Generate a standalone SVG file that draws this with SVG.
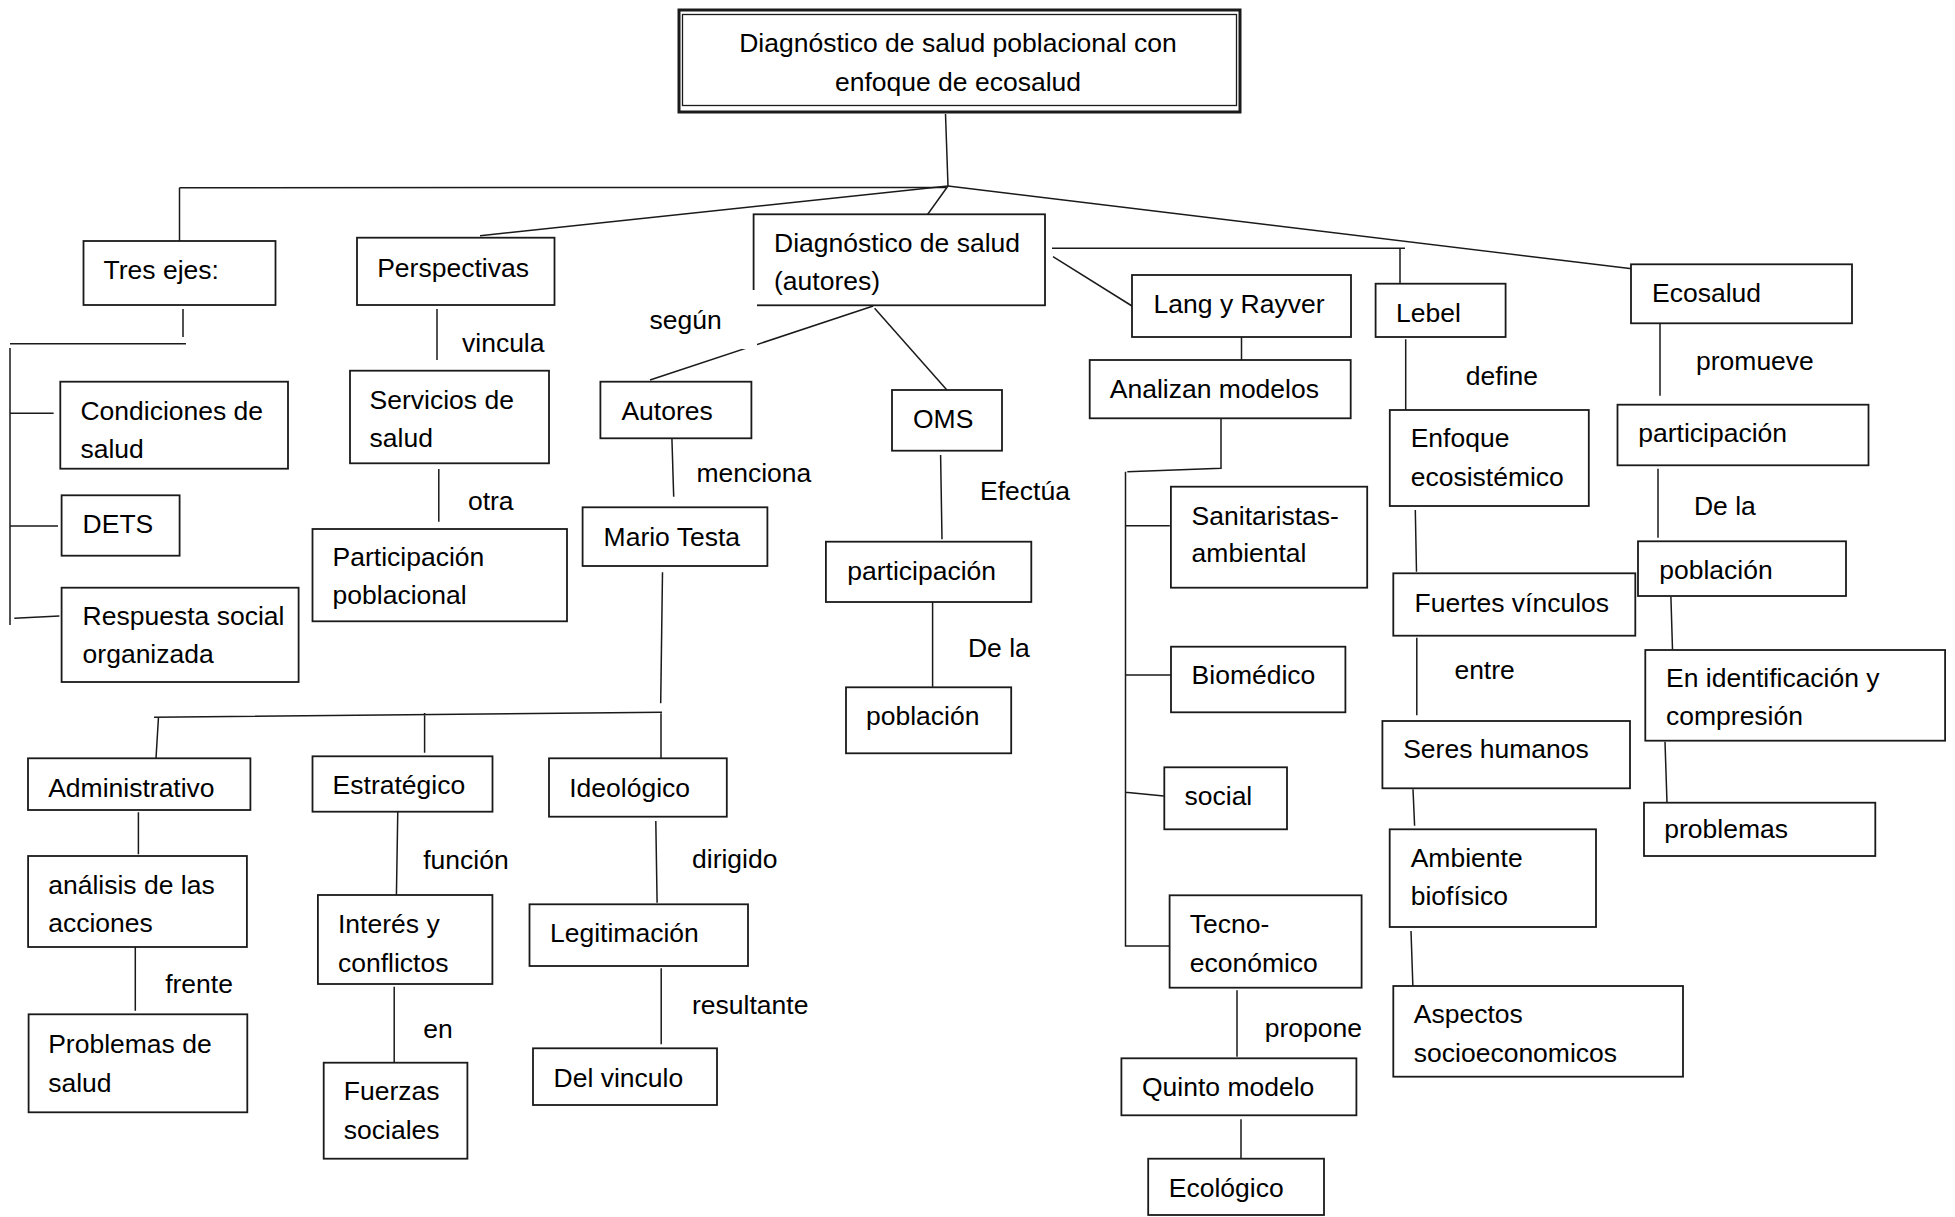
<svg xmlns="http://www.w3.org/2000/svg" width="1955" height="1217" viewBox="0 0 1955 1217">
<style>
.box{fill:#fff;stroke:#1a1a1a;stroke-width:1.8}
.t{font-family:"Liberation Sans",Arial,sans-serif;font-size:26.5px;fill:#000}
.c{fill:none;stroke:#1a1a1a;stroke-width:1.5}
.lbl{font-family:"Liberation Sans",Arial,sans-serif;font-size:26.5px;fill:#000}
</style>
<rect width="1955" height="1217" fill="#fff"/>
<g id="connectors">
<path class="c" d="M945.5,114 L948,186"/>
<path class="c" d="M179.5,187.7 L946,187.5"/>
<path class="c" d="M179.5,187.7 L179.5,241"/>
<path class="c" d="M948,186 L480,235.7"/>
<path class="c" d="M948,186 L927.7,214.3"/>
<path class="c" d="M948,186 L1634,269"/>
<path class="c" d="M1052,248.3 L1405,248.3 M1400,248.3 L1400,285"/>
<path class="c" d="M1053,256.7 L1132,306"/>
<path class="c" d="M873.2,306 L650,380"/>
<path class="c" d="M874.6,308.3 L946.9,390"/>
<path class="c" d="M183,309 L183,337 M10,343.7 L186,343.7 M10,348 L10,625 M10,413.3 L53.6,413.3 M10,526 L58,526 M14.3,618.3 L59.4,616"/>
<path class="c" d="M437,309 L437,360"/>
<path class="c" d="M438.8,469 L438.8,521.7"/>
<path class="c" d="M671.9,438.3 L673.7,496.7"/>
<path class="c" d="M662.5,572.3 L660.7,703.3"/>
<path class="c" d="M154,717.3 L662,712.3 M158.5,717 L156,758.3 M424.6,713 L424.6,752.7 M661,712.3 L661,758.3"/>
<path class="c" d="M138.4,812.3 L138.4,854.3 M135.3,947 L135.3,1010.7"/>
<path class="c" d="M397.8,810 L396.4,896.7 M394.2,986.7 L394.2,1063.3"/>
<path class="c" d="M655.8,821 L657.1,902.7 M661.2,968.3 L661.2,1044.3"/>
<path class="c" d="M940.6,455 L942,539.3 M932.6,602 L932.6,686.7"/>
<path class="c" d="M1241.5,337 L1241.5,360"/>
<path class="c" d="M1221,418.3 L1221,468.3 L1127.3,471.7 M1125.5,471.7 L1125.5,946 L1169.6,946 M1125.5,525.7 L1169.8,525.7 M1125.5,675 L1174.7,675 M1125.5,792.3 L1163.8,796"/>
<path class="c" d="M1237,990.3 L1237,1056.7 M1241,1119.3 L1241,1159.3"/>
<path class="c" d="M1405.7,339.3 L1405.7,411.7 M1415.3,510 L1416.5,571.7 M1416.8,637.7 L1416.8,715.3 M1413,789.3 L1414.6,825.7 M1411,931 L1413,990"/>
<path class="c" d="M1660,324 L1660,395.7 M1658,468.7 L1658,537.7 M1670.9,596.7 L1672.5,649.3 M1665,741.7 L1667,802.7"/>
</g>
<g id="main">
<rect x="679" y="10" width="561" height="102" fill="#fff" stroke="#1a1a1a" stroke-width="3"/>
<rect x="682.5" y="14.5" width="554" height="91" fill="none" stroke="#1a1a1a" stroke-width="1.3"/>
<text class="t" x="958" y="51.7" text-anchor="middle">Diagnóstico de salud poblacional con</text>
<text class="t" x="958" y="90.7" text-anchor="middle">enfoque de ecosalud</text>
</g>
<g id="tres-ejes"><rect class="box" x="83.5" y="241" width="192" height="64"/><text class="t" x="103.6" y="278.7">Tres ejes:</text></g>
<g id="perspectivas"><rect class="box" x="357" y="237.7" width="197.5" height="67.3"/><text class="t" x="377.2" y="276.7">Perspectivas</text></g>
<g id="diagnostico-autores"><rect class="box" x="753.6" y="214.3" width="291.4" height="91"/><text class="t" x="774" y="252">Diagnóstico de salud</text><text class="t" x="774" y="290">(autores)</text></g>
<g id="lang-rayver"><rect class="box" x="1132" y="275" width="219" height="62"/><text class="t" x="1153.6" y="313.3">Lang y Rayver</text></g>
<g id="lebel"><rect class="box" x="1375.6" y="283.7" width="130" height="53.3"/><text class="t" x="1396" y="321.7">Lebel</text></g>
<g id="ecosalud"><rect class="box" x="1631" y="264.3" width="221" height="59"/><text class="t" x="1652" y="301.7">Ecosalud</text></g>
<g id="condiciones"><rect class="box" x="60.3" y="381.7" width="227.7" height="87"/><text class="t" x="80.4" y="420">Condiciones de</text><text class="t" x="80.4" y="458.3">salud</text></g>
<g id="dets"><rect class="box" x="61.6" y="495.3" width="118" height="60.4"/><text class="t" x="82.6" y="533.3">DETS</text></g>
<g id="respuesta"><rect class="box" x="61.6" y="587.7" width="237" height="94.3"/><text class="t" x="82.6" y="625">Respuesta social</text><text class="t" x="82.6" y="663.3">organizada</text></g>
<g id="servicios"><rect class="box" x="350" y="370.7" width="199" height="92.6"/><text class="t" x="369.6" y="408.7">Servicios de</text><text class="t" x="369.6" y="446.7">salud</text></g>
<g id="participacion-poblacional"><rect class="box" x="312.5" y="529" width="254.5" height="92.3"/><text class="t" x="332.6" y="565.7">Participación</text><text class="t" x="332.6" y="604">poblacional</text></g>
<g id="autores"><rect class="box" x="600.4" y="381.7" width="151" height="56.6"/><text class="t" x="621.4" y="420">Autores</text></g>
<g id="oms"><rect class="box" x="892" y="390" width="110" height="60.7"/><text class="t" x="913" y="428">OMS</text></g>
<g id="analizan"><rect class="box" x="1089.7" y="360" width="261" height="58.3"/><text class="t" x="1109.8" y="398">Analizan modelos</text></g>
<g id="enfoque"><rect class="box" x="1389.8" y="410" width="199" height="96"/><text class="t" x="1410.7" y="446.7">Enfoque</text><text class="t" x="1410.7" y="486">ecosistémico</text></g>
<g id="participacion-eco"><rect class="box" x="1617.5" y="404.7" width="251" height="60.6"/><text class="t" x="1638.3" y="441.7">participación</text></g>
<g id="mario-testa"><rect class="box" x="582.6" y="507.3" width="184.8" height="58.7"/><text class="t" x="603.6" y="545.7">Mario Testa</text></g>
<g id="participacion-oms"><rect class="box" x="825.9" y="541.7" width="205.4" height="60.3"/><text class="t" x="847.3" y="580">participación</text></g>
<g id="sanitaristas"><rect class="box" x="1170.9" y="486.7" width="196.3" height="101"/><text class="t" x="1191.6" y="525">Sanitaristas-</text><text class="t" x="1191.6" y="562.3">ambiental</text></g>
<g id="poblacion-eco"><rect class="box" x="1638" y="541.3" width="208" height="54.7"/><text class="t" x="1659.2" y="579.3">población</text></g>
<g id="fuertes"><rect class="box" x="1393.3" y="573.3" width="242" height="62.4"/><text class="t" x="1414.6" y="611.7">Fuertes vínculos</text></g>
<g id="poblacion-oms"><rect class="box" x="846" y="687.3" width="165.2" height="66"/><text class="t" x="866" y="725">población</text></g>
<g id="biomedico"><rect class="box" x="1171" y="646.7" width="174.4" height="65.6"/><text class="t" x="1191.6" y="684">Biomédico</text></g>
<g id="identificacion"><rect class="box" x="1645.3" y="650" width="299.8" height="90.7"/><text class="t" x="1666" y="686.7">En identificación y</text><text class="t" x="1666" y="725">compresión</text></g>
<g id="seres"><rect class="box" x="1382.4" y="721" width="247.6" height="67.3"/><text class="t" x="1403.2" y="758.3">Seres humanos</text></g>
<g id="social"><rect class="box" x="1164.3" y="767.3" width="122.7" height="62"/><text class="t" x="1184.5" y="805">social</text></g>
<g id="problemas"><rect class="box" x="1644" y="802.7" width="231.3" height="53.3"/><text class="t" x="1664.3" y="838.3">problemas</text></g>
<g id="administrativo"><rect class="box" x="28" y="758.3" width="222.4" height="51.7"/><text class="t" x="48.2" y="796.7">Administrativo</text></g>
<g id="estrategico"><rect class="box" x="312.5" y="756.3" width="180" height="55.4"/><text class="t" x="332.6" y="794.3">Estratégico</text></g>
<g id="ideologico"><rect class="box" x="549" y="758.3" width="177.8" height="58.4"/><text class="t" x="569.2" y="796.7">Ideológico</text></g>
<g id="ambiente"><rect class="box" x="1389.7" y="829.3" width="206.3" height="97.7"/><text class="t" x="1410.7" y="866.7">Ambiente</text><text class="t" x="1410.7" y="905">biofísico</text></g>
<g id="tecno"><rect class="box" x="1169.6" y="895.3" width="192" height="92.4"/><text class="t" x="1189.7" y="933.3">Tecno-</text><text class="t" x="1189.7" y="971.7">económico</text></g>
<g id="analisis"><rect class="box" x="28.1" y="856" width="218.8" height="91"/><text class="t" x="48.2" y="894.3">análisis de las</text><text class="t" x="48.2" y="932.3">acciones</text></g>
<g id="interes"><rect class="box" x="317.9" y="895" width="174.5" height="89"/><text class="t" x="338" y="933.3">Interés y</text><text class="t" x="338" y="971.7">conflictos</text></g>
<g id="legitimacion"><rect class="box" x="529.5" y="904.3" width="218.5" height="61.7"/><text class="t" x="550" y="941.7">Legitimación</text></g>
<g id="aspectos"><rect class="box" x="1393.3" y="986" width="289.7" height="90.7"/><text class="t" x="1413.8" y="1022.7">Aspectos</text><text class="t" x="1413.8" y="1061.7">socioeconomicos</text></g>
<g id="problemas-salud"><rect class="box" x="28.6" y="1014.3" width="218.7" height="98"/><text class="t" x="48.2" y="1053.3">Problemas de</text><text class="t" x="48.2" y="1091.7">salud</text></g>
<g id="del-vinculo"><rect class="box" x="533" y="1048.3" width="184" height="56.7"/><text class="t" x="553.6" y="1086.7">Del vinculo</text></g>
<g id="quinto"><rect class="box" x="1121.4" y="1058.3" width="235" height="57"/><text class="t" x="1142" y="1096">Quinto modelo</text></g>
<g id="fuerzas"><rect class="box" x="323.7" y="1062.7" width="143.7" height="96"/><text class="t" x="343.8" y="1100">Fuerzas</text><text class="t" x="343.8" y="1139.3">sociales</text></g>
<g id="ecologico"><rect class="box" x="1148.2" y="1158.7" width="175.8" height="56.3"/><text class="t" x="1168.8" y="1196.7">Ecológico</text></g>
<g id="labels">
<rect x="620" y="290" width="137" height="59" fill="#fff"/>
<text class="lbl" x="649.6" y="329">según</text>
<text class="lbl" x="462" y="351.7">vincula</text>
<text class="lbl" x="467.9" y="510">otra</text>
<text class="lbl" x="696.4" y="481.7">menciona</text>
<text class="lbl" x="980" y="500">Efectúa</text>
<text class="lbl" x="967.9" y="657.3">De la</text>
<text class="lbl" x="1465.8" y="385">define</text>
<text class="lbl" x="1696" y="370">promueve</text>
<text class="lbl" x="1693.9" y="515">De la</text>
<text class="lbl" x="1454.4" y="679.3">entre</text>
<text class="lbl" x="423.2" y="869">función</text>
<text class="lbl" x="165.2" y="993.3">frente</text>
<text class="lbl" x="423.2" y="1038.3">en</text>
<text class="lbl" x="692" y="868">dirigido</text>
<text class="lbl" x="692" y="1014">resultante</text>
<text class="lbl" x="1264.7" y="1036.7">propone</text>
</g>
</svg>
